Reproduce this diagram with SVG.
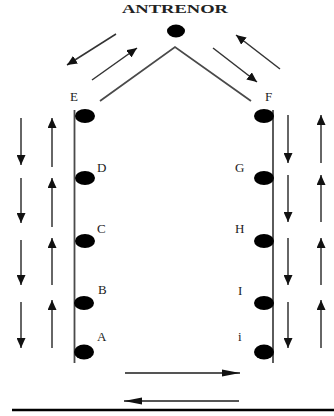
<svg xmlns="http://www.w3.org/2000/svg" width="334" height="416" viewBox="0 0 334 416">
<style>
.ln{stroke:#4a4a4a;stroke-width:1.8;fill:none}
.ar{stroke:#333;stroke-width:1.5;fill:none;marker-end:url(#ah)}
.arb{stroke:#555;stroke-width:1.8;fill:none;marker-end:url(#ahl)}
.dot{fill:#000}
.lbl{font-family:"Liberation Serif","Times New Roman",serif;font-size:13px;fill:#222}
</style>
<defs>
<marker id="ah" markerUnits="userSpaceOnUse" markerWidth="11" markerHeight="9" refX="10" refY="4.5" orient="auto" viewBox="0 0 11 9">
<path d="M0,0 L10,4.5 L0,9 z" fill="#111"/>
</marker>
<marker id="ahl" markerUnits="userSpaceOnUse" markerWidth="19" markerHeight="8" refX="18" refY="4" orient="auto" viewBox="0 0 19 8">
<path d="M0,0.5 L18,4 L0,7.5 z" fill="#111"/>
</marker>
</defs>
<rect width="334" height="416" fill="#fff"/>
<text class="lbl" x="122" y="13" textLength="106" lengthAdjust="spacingAndGlyphs" font-weight="bold" font-size="12px">ANTRENOR</text>
<g id="connectors">
<polyline class="ln" points="100,101 175,47 251,101"/>
<line class="ln" x1="74.5" y1="110" x2="74.5" y2="363"/>
<line class="ln" x1="273" y1="110" x2="273" y2="363"/>
<line class="ar" x1="116" y1="34" x2="67" y2="65"/>
<line class="ar" x1="92" y1="80" x2="137" y2="48"/>
<line class="ar" x1="213" y1="48" x2="257" y2="82"/>
<line class="ar" x1="280" y1="69" x2="236" y2="35"/>
<line class="ar" x1="21" y1="118" x2="21" y2="165"/>
<line class="ar" x1="21" y1="178" x2="21" y2="223"/>
<line class="ar" x1="21" y1="240" x2="21" y2="285"/>
<line class="ar" x1="21" y1="302" x2="21" y2="348"/>
<line class="ar" x1="52" y1="167" x2="52" y2="118"/>
<line class="ar" x1="52" y1="227" x2="52" y2="178"/>
<line class="ar" x1="52" y1="285" x2="52" y2="238"/>
<line class="ar" x1="52" y1="348" x2="52" y2="300"/>
<line class="ar" x1="288" y1="115" x2="288" y2="163"/>
<line class="ar" x1="288" y1="175" x2="288" y2="222"/>
<line class="ar" x1="288" y1="238" x2="288" y2="285"/>
<line class="ar" x1="288" y1="302" x2="288" y2="348"/>
<line class="ar" x1="321" y1="163" x2="321" y2="115"/>
<line class="ar" x1="321" y1="222" x2="321" y2="175"/>
<line class="ar" x1="321" y1="285" x2="321" y2="238"/>
<line class="ar" x1="321" y1="348" x2="321" y2="300"/>
<line class="arb" x1="125" y1="373" x2="240" y2="373"/>
<line class="arb" x1="239" y1="401" x2="124" y2="401"/>
<line x1="12" y1="410" x2="334" y2="410" stroke="#000" stroke-width="2.5"/>
</g>
<g id="antrenor"><ellipse class="dot" cx="176" cy="31" rx="9" ry="6.5"/></g>
<g id="E"><ellipse class="dot" cx="85" cy="116" rx="10" ry="7"/><text class="lbl" x="70" y="101">E</text></g>
<g id="D"><ellipse class="dot" cx="85" cy="178" rx="10" ry="7"/><text class="lbl" x="97" y="172">D</text></g>
<g id="C"><ellipse class="dot" cx="85" cy="241" rx="10" ry="7"/><text class="lbl" x="97" y="233">C</text></g>
<g id="B"><ellipse class="dot" cx="84" cy="303" rx="10" ry="7"/><text class="lbl" x="98" y="294">B</text></g>
<g id="A"><ellipse class="dot" cx="84" cy="352" rx="10" ry="7.5"/><text class="lbl" x="97" y="341">A</text></g>
<g id="F"><ellipse class="dot" cx="264" cy="116" rx="10" ry="7"/><text class="lbl" x="265" y="101">F</text></g>
<g id="G"><ellipse class="dot" cx="264" cy="178" rx="10" ry="7"/><text class="lbl" x="235" y="172">G</text></g>
<g id="H"><ellipse class="dot" cx="264" cy="241" rx="10" ry="7"/><text class="lbl" x="235" y="233">H</text></g>
<g id="I"><ellipse class="dot" cx="264" cy="303" rx="10" ry="7"/><text class="lbl" x="238" y="295">I</text></g>
<g id="i"><ellipse class="dot" cx="264" cy="352" rx="10" ry="7.5"/><text class="lbl" x="238" y="341">i</text></g>
</svg>
